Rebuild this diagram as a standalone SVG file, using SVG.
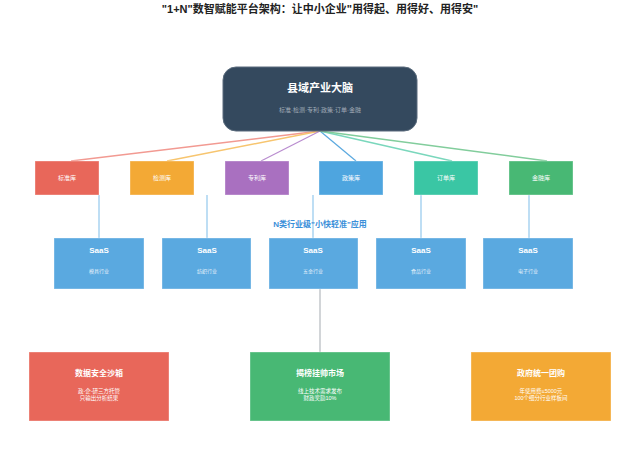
<svg xmlns="http://www.w3.org/2000/svg" width="640" height="455" viewBox="0 0 640 455">
<style>
text{font-family:"Liberation Sans","Noto Sans CJK SC",sans-serif;text-anchor:middle}
.t{font-size:11px;font-weight:bold;fill:#222}
.lib{font-size:6px;fill:#fff}
.saas{font-size:8px;font-weight:bold;fill:#fff}
.sub{font-size:5px;fill:#e8f2fb}
.bt{font-size:8px;font-weight:bold;fill:#fff}
.bs{font-size:5.5px;fill:#fff}
.box{stroke:#ffffff;stroke-opacity:0.35;stroke-width:1}
.vl{stroke:#a9d3f0;stroke-width:1.5;fill:none}
</style>
<rect width="640" height="455" fill="#fff"/>
<text class="t" x="320" y="13">"1+N"数智赋能平台架构：让中小企业"用得起、用得好、用得安"</text>

<g id="connectors">
<line x1="320" y1="131" x2="71" y2="161" stroke="#f29a92" stroke-width="1.5"/>
<line x1="320" y1="131" x2="167" y2="161" stroke="#f7c56f" stroke-width="1.5"/>
<line x1="320" y1="131" x2="261" y2="161" stroke="#b98ccf" stroke-width="1.2"/>
<line x1="320" y1="131" x2="356" y2="161" stroke="#5ba9df" stroke-width="1.2"/>
<line x1="320" y1="131" x2="452" y2="161" stroke="#7ad7bc" stroke-width="1.5"/>
<line x1="320" y1="131" x2="547" y2="161" stroke="#82cd9c" stroke-width="1.5"/>
<line class="vl" x1="99" y1="195" x2="99" y2="238"/>
<line class="vl" x1="207" y1="195" x2="207" y2="238"/>
<line class="vl" x1="313" y1="195" x2="313" y2="238"/>
<line class="vl" x1="421" y1="195" x2="421" y2="238"/>
<line class="vl" x1="529" y1="195" x2="529" y2="238"/>
<line x1="320" y1="289" x2="320" y2="352" stroke="#c3c7cb" stroke-width="1.5"/>
</g>

<g id="brain">
<rect x="223" y="67" width="194" height="64" rx="13" fill="#34495e" stroke="#5a6b7c" stroke-width="1"/>
<text x="320" y="92" font-size="11" font-weight="bold" fill="#fff">县域产业大脑</text>
<text x="320" y="112" font-size="6" fill="#a3adb8">标准·检测·专利·政策·订单·金融</text>
</g>

<g id="lib1"><rect class="box" x="35" y="161" width="64" height="34" fill="#e8675a"/><text class="lib" x="67" y="180">标准库</text></g>
<g id="lib2"><rect class="box" x="130" y="161" width="64" height="34" fill="#f3a935"/><text class="lib" x="162" y="180">检测库</text></g>
<g id="lib3"><rect class="box" x="225" y="161" width="64" height="34" fill="#a970c0"/><text class="lib" x="257" y="180">专利库</text></g>
<g id="lib4"><rect class="box" x="319" y="161" width="64" height="34" fill="#4ea5df"/><text class="lib" x="351" y="180">政策库</text></g>
<g id="lib5"><rect class="box" x="414" y="161" width="64" height="34" fill="#3ac6a4"/><text class="lib" x="446" y="180">订单库</text></g>
<g id="lib6"><rect class="box" x="509" y="161" width="64" height="34" fill="#48b874"/><text class="lib" x="541" y="180">金融库</text></g>

<text x="320" y="227" font-size="8" font-weight="bold" fill="#3a8fd9">N类行业级"小快轻准"应用</text>

<g id="saas1"><rect class="box" x="54" y="238" width="90" height="51" fill="#5aa9e0"/><text class="saas" x="99" y="253">SaaS</text><text class="sub" x="99" y="273">模具行业</text></g>
<g id="saas2"><rect class="box" x="162" y="238" width="89" height="51" fill="#5aa9e0"/><text class="saas" x="207" y="253">SaaS</text><text class="sub" x="207" y="273">纺织行业</text></g>
<g id="saas3"><rect class="box" x="269" y="238" width="89" height="51" fill="#5aa9e0"/><text class="saas" x="313" y="253">SaaS</text><text class="sub" x="313" y="273">五金行业</text></g>
<g id="saas4"><rect class="box" x="376" y="238" width="90" height="51" fill="#5aa9e0"/><text class="saas" x="421" y="253">SaaS</text><text class="sub" x="421" y="273">食品行业</text></g>
<g id="saas5"><rect class="box" x="483" y="238" width="90" height="51" fill="#5aa9e0"/><text class="saas" x="528" y="253">SaaS</text><text class="sub" x="528" y="273">电子行业</text></g>

<g id="sandbox"><rect class="box" x="29" y="352" width="140" height="69" fill="#e8675a"/><text class="bt" x="99" y="376">数据安全沙箱</text><text class="bs" x="99" y="393">政-企-研三方托管</text><text class="bs" x="99" y="400">只输出分析结果</text></g>
<g id="market"><rect class="box" x="250" y="352" width="140" height="69" fill="#48b874"/><text class="bt" x="320" y="376">揭榜挂帅市场</text><text class="bs" x="320" y="393">线上技术需求发布</text><text class="bs" x="320" y="400">财政奖励10%</text></g>
<g id="purchase"><rect class="box" x="471" y="352" width="140" height="69" fill="#f3a935"/><text class="bt" x="541" y="376">政府统一团购</text><text class="bs" x="541" y="393">年使用费≤5000元</text><text class="bs" x="541" y="400">100个细分行业样板间</text></g>
</svg>
